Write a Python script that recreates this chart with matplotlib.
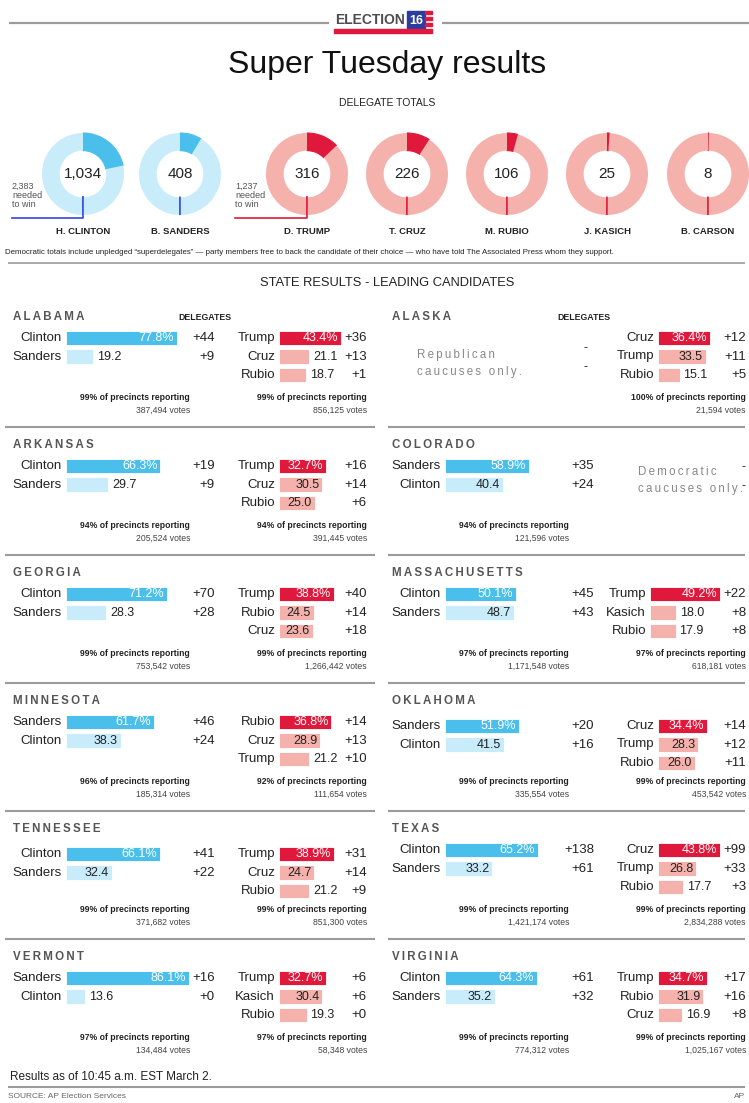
import matplotlib
matplotlib.use("Agg")
import matplotlib.pyplot as plt
from matplotlib.patches import Rectangle
from matplotlib.transforms import offset_copy
import numpy as np

W, H = 749, 1103
plt.rcParams['font.family'] = ['Liberation Sans', 'DejaVu Sans']
NARROW = ['Liberation Sans Narrow', 'Liberation Sans', 'DejaVu Sans']

# ---------------- data ----------------
donut_names = ["H. CLINTON", "B. SANDERS", "D. TRUMP", "T. CRUZ", "M. RUBIO", "J. KASICH", "B. CARSON"]
donut_party = ["D", "D", "R", "R", "R", "R", "R"]
donut_delegates = [1034, 408, 316, 226, 106, 25, 8]
dem_total_delegates = 4763
rep_total_delegates = 2472
dem_needed = 2383
rep_needed = 1237

states = ["ALABAMA", "ALASKA", "ARKANSAS", "COLORADO", "GEORGIA", "MASSACHUSETTS",
          "MINNESOTA", "OKLAHOMA", "TENNESSEE", "TEXAS", "VERMONT", "VIRGINIA"]

dem_names = [["Clinton", "Sanders"], None, ["Clinton", "Sanders"], ["Sanders", "Clinton"],
             ["Clinton", "Sanders"], ["Clinton", "Sanders"], ["Sanders", "Clinton"],
             ["Sanders", "Clinton"], ["Clinton", "Sanders"], ["Clinton", "Sanders"],
             ["Sanders", "Clinton"], ["Clinton", "Sanders"]]
dem_pct = [[77.8, 19.2], None, [66.3, 29.7], [58.9, 40.4], [71.2, 28.3], [50.1, 48.7],
           [61.7, 38.3], [51.9, 41.5], [66.1, 32.4], [65.2, 33.2], [86.1, 13.6], [64.3, 35.2]]
dem_dels = [[44, 9], None, [19, 9], [35, 24], [70, 28], [45, 43],
            [46, 24], [20, 16], [41, 22], [138, 61], [16, 0], [61, 32]]

rep_names = [["Trump", "Cruz", "Rubio"], ["Cruz", "Trump", "Rubio"], ["Trump", "Cruz", "Rubio"], None,
             ["Trump", "Rubio", "Cruz"], ["Trump", "Kasich", "Rubio"], ["Rubio", "Cruz", "Trump"],
             ["Cruz", "Trump", "Rubio"], ["Trump", "Cruz", "Rubio"], ["Cruz", "Trump", "Rubio"],
             ["Trump", "Kasich", "Rubio"], ["Trump", "Rubio", "Cruz"]]
rep_pct = [[43.4, 21.1, 18.7], [36.4, 33.5, 15.1], [32.7, 30.5, 25.0], None,
           [38.8, 24.5, 23.6], [49.2, 18.0, 17.9], [36.8, 28.9, 21.2],
           [34.4, 28.3, 26.0], [38.9, 24.7, 21.2], [43.8, 26.8, 17.7],
           [32.7, 30.4, 19.3], [34.7, 31.9, 16.9]]
rep_dels = [[36, 13, 1], [12, 11, 5], [16, 14, 6], None,
            [40, 14, 18], [22, 8, 8], [14, 13, 10],
            [14, 12, 11], [31, 14, 9], [99, 33, 3],
            [6, 6, 0], [17, 16, 8]]

dem_precincts = [99, None, 94, 94, 99, 97, 96, 99, 99, 99, 97, 99]
dem_votes = ["387,494", None, "205,524", "121,596", "753,542", "1,171,548",
             "185,314", "335,554", "371,682", "1,421,174", "134,484", "774,312"]
rep_precincts = [99, 100, 94, None, 99, 97, 92, 99, 99, 99, 97, 99]
rep_votes = ["856,125", "21,594", "391,445", None, "1,266,442", "618,181",
             "111,654", "453,542", "851,300", "2,834,288", "58,348", "1,025,167"]

# ---------------- style ----------------
DEM_LEAD = '#4bbfec'
DEM_OTHER = '#c9ecfb'
REP_LEAD = '#e0193c'
REP_OTHER = '#f5b1ac'
DEM_LINE = '#3344e6'
REP_LINE = '#e0193c'
TXT = '#222222'
GRAY = '#9b9b9b'

fig = plt.figure(figsize=(W / 100, H / 100), dpi=100)
base = fig.add_axes([0, 0, 1, 1])
base.set_xlim(0, W)
base.set_ylim(H, 0)
base.axis('off')


def px_axes(x, y, w, h):
    ax = fig.add_axes([x / W, 1 - (y + h) / H, w / W, h / H])
    ax.axis('off')
    ax.patch.set_visible(False)
    return ax


def hline(x1, x2, y, lw=1.5, color=GRAY):
    base.plot([x1, x2], [y, y], color=color, lw=lw, solid_capstyle='butt')


def spaced(s):
    return '\u2009'.join(s)


# ---------------- header ----------------
hline(9, 329, 23, lw=1.6)
hline(442, 749, 23, lw=1.6)
base.text(370, 20, "ELECTION", ha='center', va='center', fontsize=10, weight='bold',
          color='#4d4d4d', family=NARROW)
base.add_patch(Rectangle((407, 11), 18, 18, color='#2b3d9e'))
base.text(416, 20.5, "16", ha='center', va='center', fontsize=9, weight='bold', color='white')
for yy in (11, 17, 23):
    base.add_patch(Rectangle((425, yy), 7, 3, color=REP_LEAD))
base.add_patch(Rectangle((334, 29), 98, 4, color=REP_LEAD))

base.text(387, 65, "Super Tuesday results", ha='center', va='center', fontsize=23, color='#111111')
base.text(387, 103, "DELEGATE TOTALS", ha='center', va='center', fontsize=7.5, color=TXT)

# ---------------- donuts ----------------
donut_cx = [83, 180, 307, 407, 507, 607, 708]
CY = 174
R_OUT = 41
for name, party, val, cx in zip(donut_names, donut_party, donut_delegates, donut_cx):
    total = dem_total_delegates if party == "D" else rep_total_delegates
    needed = dem_needed if party == "D" else rep_needed
    dark, light, line = (DEM_LEAD, DEM_OTHER, DEM_LINE) if party == "D" else (REP_LEAD, REP_OTHER, REP_LINE)
    ax = px_axes(cx - R_OUT, CY - R_OUT, 2 * R_OUT, 2 * R_OUT)
    wedges, _ = ax.pie([val, total - val], colors=[dark, light], startangle=90, counterclock=False,
                       wedgeprops=dict(width=0.43, linewidth=0))
    wedges[0].set_edgecolor(dark)
    wedges[0].set_linewidth(0.8)
    ax.set_xlim(-1, 1)
    ax.set_ylim(-1, 1)
    th = np.deg2rad(90 - 360.0 * needed / total)
    ax.plot([0.57 * np.cos(th), 1.0 * np.cos(th)], [0.57 * np.sin(th), 1.0 * np.sin(th)],
            color=line, lw=1.2)
    ax.text(0, 0, f"{val:,}", ha='center', va='center', fontsize=11, color=TXT)
    base.text(cx, 232, name, ha='center', va='center', fontsize=6.8, weight='bold', color=TXT)

base.plot([83, 83, 12], [197, 218, 218], color=DEM_LINE, lw=1.2)
base.plot([307, 307, 235], [197, 218, 218], color=REP_LINE, lw=1.2)
base.text(12, 182, f"{dem_needed:,}\nneeded\nto win", ha='left', va='top', fontsize=6.5,
          linespacing=1.0, color='#555555')
base.text(235, 182, f"{rep_needed:,}\nneeded\nto win", ha='left', va='top', fontsize=6.5,
          linespacing=1.0, color='#555555')

base.text(5, 252, "Democratic totals include unpledged \u201csuperdelegates\u201d \u2014 party members free to back "
          "the candidate of their choice \u2014 who have told The Associated Press whom they support.",
          ha='left', va='center', fontsize=5.7, color=TXT)
hline(8, 745, 263, lw=1.2)
base.text(387, 283, "STATE RESULTS - LEADING CANDIDATES", ha='center', va='center', fontsize=9.3, color=TXT)

# ---------------- state panels ----------------
PX_PER_PCT = 1.425
ROW = 18.5


def bar_group(x_bar, y_first, names, pcts, dels, lead_col, other_col, del_x, inside_min):
    n = len(pcts)
    ax = px_axes(x_bar, y_first - ROW / 2, 100 * PX_PER_PCT, n * ROW)
    ax.set_xlim(0, 100)
    ax.set_ylim(n - 0.5, -0.5)
    cols = [lead_col] + [other_col] * (n - 1)
    ax.barh(range(n), pcts, height=0.8, color=cols, edgecolor='white', linewidth=0.6)
    tr_in = offset_copy(ax.transData, fig=fig, x=-3, y=0, units='dots')
    tr_out = offset_copy(ax.transData, fig=fig, x=4, y=0, units='dots')
    for i, (nm, p, d) in enumerate(zip(names, pcts, dels)):
        y = y_first + i * ROW
        base.text(x_bar - 4, y, nm, ha='right', va='center', fontsize=9.5, color=TXT)
        base.text(del_x, y, f"+{d}", ha='right', va='center', fontsize=9.5, color=TXT)
        if i == 0:
            ax.text(p, i, f"{p:.1f}%", transform=tr_in, ha='right', va='center',
                    color='white', fontsize=9)
        elif p >= inside_min:
            ax.text(p, i, f"{p:.1f}", transform=tr_in, ha='right', va='center',
                    color=TXT, fontsize=9)
        else:
            ax.text(p, i, f"{p:.1f}", transform=tr_out, ha='left', va='center',
                    color=TXT, fontsize=9)


def footnote(x_right, T, prec, votes):
    base.text(x_right, T + 81, f"{prec}% of precincts reporting", ha='right', va='center',
              fontsize=6.2, weight='bold', color=TXT, family=NARROW)
    base.text(x_right, T + 93.5, f"{votes} votes", ha='right', va='center',
              fontsize=6.2, color='#444444', family=NARROW)


shift = {"OKLAHOMA": 4, "TENNESSEE": 4}
rep_dx = {"MASSACHUSETTS": -8}
for k, st in enumerate(states):
    r, c = divmod(k, 2)
    T = 317 + 128 * r
    x0 = 0 if c == 0 else 379
    s = shift.get(st, 0)
    base.text(x0 + 13, T, spaced(st), ha='left', va='center', fontsize=8.3, weight='bold', color='#555555')
    if r == 0:
        base.text(x0 + 178, T, "DELEGATES", ha='left', va='center', fontsize=6.3, weight='bold',
                  color=TXT, family=NARROW)
    if dem_pct[k] is not None:
        bar_group(x0 + 66, T + 21 + s, dem_names[k], dem_pct[k], dem_dels[k],
                  DEM_LEAD, DEM_OTHER, x0 + 215, 30)
        footnote(x0 + 190, T, dem_precincts[k], dem_votes[k])
    else:
        base.text(x0 + 38, T + 38, spaced("Republican"), ha='left', va='center', fontsize=8.3, color='#888888')
        base.text(x0 + 38, T + 55, spaced("caucuses only."), ha='left', va='center', fontsize=8.3, color='#888888')
        base.text(x0 + 207, T + 31, "-", ha='center', va='center', fontsize=9, color=TXT)
        base.text(x0 + 207, T + 50, "-", ha='center', va='center', fontsize=9, color=TXT)
    if rep_pct[k] is not None:
        dx = rep_dx.get(st, 0)
        bar_group(x0 + 279 + dx, T + 21 + s, rep_names[k], rep_pct[k], rep_dels[k],
                  REP_LEAD, REP_OTHER, x0 + 367, 23)
        footnote(x0 + 367, T, rep_precincts[k], rep_votes[k])
    else:
        base.text(x0 + 259, T + 27, spaced("Democratic"), ha='left', va='center', fontsize=8.3, color='#888888')
        base.text(x0 + 259, T + 44, spaced("caucuses only."), ha='left', va='center', fontsize=8.3, color='#888888')
        base.text(x0 + 364, T + 22, "-", ha='center', va='center', fontsize=9, color=TXT)
        base.text(x0 + 364, T + 41, "-", ha='center', va='center', fontsize=9, color=TXT)

for r in range(5):
    y = 317 + 128 * r + 110
    hline(5, 375, y)
    hline(388, 745, y)

# ---------------- footer ----------------
base.text(10, 1077, "Results as of 10:45 a.m. EST March 2.", ha='left', va='center', fontsize=8.5, color=TXT)
hline(8, 745, 1087, lw=1.5)
base.text(8, 1097, "SOURCE: AP Election Services", ha='left', va='center', fontsize=6, color='#666666')
base.text(745, 1097, "AP", ha='right', va='center', fontsize=6, color='#666666')

fig.savefig("out.png", dpi=100)
